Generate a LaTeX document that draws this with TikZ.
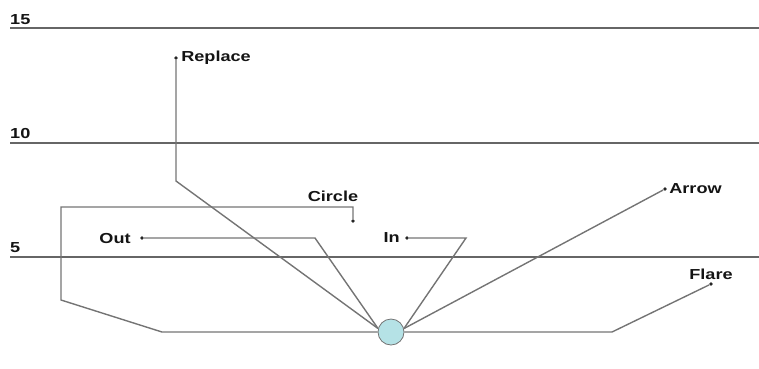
\documentclass[tikz,border=0pt]{standalone}
\usepackage{fontspec}
\setmainfont{Liberation Sans}
\newfontfamily\lblfont[FakeStretch=1.25]{Liberation Sans}
\usetikzlibrary{positioning}
\definecolor{linegray}{HTML}{747474}
\definecolor{levelgray}{HTML}{666666}
\definecolor{hubfill}{HTML}{B5E2E6}

\begin{document}
\begin{tikzpicture}[x=1pt,y=-1pt,
        level/.style={draw=levelgray, line width=1.9pt},
        wire/.style={draw=linegray, line width=1.4pt},
        lbl/.style={font=\lblfont\fontsize{14.5}{14.5}\selectfont\bfseries, text=black!92, inner sep=1pt},
        tip/.style={circle, fill=black!85, inner sep=0pt, minimum size=3.8pt}]
        \useasboundingbox (0,0) rectangle (759,368);

        % scale lines
        \coordinate (s15a) at (10,28);  \coordinate (s15b) at (759,28);
        \coordinate (s10a) at (10,143); \coordinate (s10b) at (759,143);
        \coordinate (s5a)  at (10,257); \coordinate (s5b)  at (759,257);
        \node[lbl, anchor=west] at (9,20)  (n15) {15};
        \node[lbl, anchor=west] at (9,134) (n10) {10};
        \node[lbl, anchor=west] at (9,248) (n5)  {5};
        \draw[level] (s15a) -- (s15b);
        \draw[level] (s10a) -- (s10b);
        \draw[level] (s5a) -- (s5b);

        \node[circle, draw=black!55, fill=hubfill, line width=0.8pt, minimum size=26pt, inner sep=0pt] at (391,332) (hub) {};

        \node[tip] at (176,58)  (rtip) {};
        \node[tip] at (353,221) (ctip) {};
        \node[tip] at (142,238) (otip) {};
        \node[tip] at (407,238) (itip) {};
        \node[tip] at (665,189) (atip) {};
        \node[tip] at (711,284) (ftip) {};

        \node[lbl, right=2pt of rtip] (replace) {Replace};
        \node[lbl] at (333,196) (circ) {Circle};
        \node[lbl, left=8pt of otip] (out) {Out};
        \node[lbl, left=4pt of itip] (in) {In};
        \node[lbl, right=1pt of atip] (arrow) {Arrow};
        \node[lbl, above=1pt of ftip] (flare) {Flare};

        \coordinate (rbend) at (176,181);
        \coordinate (obend) at (315,238);
        \coordinate (ibend) at (466,238);
        \coordinate (lbase) at (162,332);
        \coordinate (lbot)  at (61,300);
        \coordinate (ltop)  at (61,207);
        \coordinate (cbend) at (353,207);
        \coordinate (rbase) at (612,332);

        \draw[wire] (hub.165) -- (rbend) -- (rtip);
        \draw[wire] (hub.165) -- (obend) -- (otip);
        \draw[wire] (hub.15) -- (ibend) -- (itip);
        \draw[wire] (hub.15) -- (atip);
        \draw[wire] (hub.west) -- (lbase) -- (lbot) -- (ltop) -- (cbend) -- (ctip);
        \draw[wire] (hub.east) -- (rbase) -- (ftip);

    \end{tikzpicture}
\end{document}
